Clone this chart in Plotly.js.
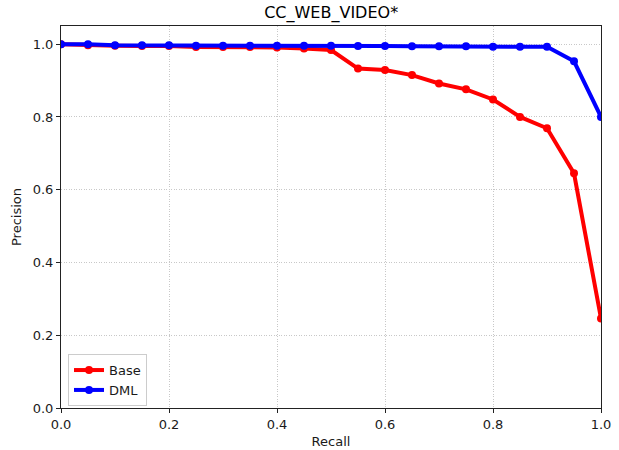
<!DOCTYPE html>
<html>
<head>
<meta charset="utf-8">
<script src="https://cdn.plot.ly/plotly-3.0.1.min.js"></script>
<style>html,body{margin:0;padding:0;background:#fff;}#chart{width:619px;height:450px;}</style>
</head>
<body>
<div id="chart"></div>
<script>
const recall = [0, 0.05, 0.1, 0.15, 0.2, 0.25, 0.3, 0.35, 0.4, 0.45, 0.5, 0.55, 0.6, 0.65, 0.7, 0.75, 0.8, 0.85, 0.9, 0.95, 1.0];
const basePrecision = [1.0, 0.997, 0.996, 0.995, 0.995, 0.992, 0.992, 0.992, 0.991, 0.988, 0.984, 0.933, 0.929, 0.915, 0.892, 0.876, 0.848, 0.800, 0.769, 0.645, 0.246];
const dmlPrecision = [1.0, 1.0, 0.997, 0.997, 0.997, 0.996, 0.996, 0.996, 0.996, 0.996, 0.996, 0.995, 0.995, 0.994, 0.994, 0.994, 0.993, 0.993, 0.993, 0.953, 0.800];
const xTicks = [0, 0.2, 0.4, 0.6, 0.8, 1.0];
const xTickLabels = ["0.0", "0.2", "0.4", "0.6", "0.8", "1.0"];
const yTicks = [0, 0.2, 0.4, 0.6, 0.8, 1.0];
const yTickLabels = ["0.0", "0.2", "0.4", "0.6", "0.8", "1.0"];

const font = {family: "DejaVu Sans", size: 13, color: "#1a1a1a"};
const traces = [
  {x: recall, y: basePrecision, name: "Base", mode: "lines+markers",
   line: {color: "#ff0000", width: 4}, marker: {color: "#ff0000", size: 8}},
  {x: recall, y: dmlPrecision, name: "DML", mode: "lines+markers",
   line: {color: "#0000ff", width: 4}, marker: {color: "#0000ff", size: 8}}
];
const axisCommon = {
  showline: true, linecolor: "#222", linewidth: 1, mirror: true,
  ticks: "outside", ticklen: 4, tickcolor: "#222", tickwidth: 1,
  showgrid: true, gridcolor: "#c8c8c8", griddash: "1px,1.5px", gridwidth: 1,
  zeroline: false, tickfont: font
};
const layout = {
  width: 619, height: 450,
  margin: {l: 61, r: 18, t: 26, b: 42},
  paper_bgcolor: "#fff", plot_bgcolor: "#fff",
  font: font,
  title: {text: "CC_WEB_VIDEO*", font: {family: "DejaVu Sans", size: 16, color: "#000"}, x: 0.535, xanchor: "center", y: 0.973, yanchor: "middle"},
  xaxis: Object.assign({}, axisCommon, {range: [0, 1], tickvals: xTicks, ticktext: xTickLabels,
    title: {text: "Recall", font: font, standoff: 6}}),
  yaxis: Object.assign({}, axisCommon, {range: [0, 1.05], tickvals: yTicks, ticktext: yTickLabels,
    title: {text: "Precision", font: font, standoff: 8}}),
  legend: {x: 0.013, y: 0.005, xanchor: "left", yanchor: "bottom",
    bgcolor: "rgba(255,255,255,0.8)", bordercolor: "#cccccc", borderwidth: 1,
    font: font, tracegroupgap: 2},
  showlegend: true
};
Plotly.newPlot("chart", traces, layout, {displayModeBar: false, staticPlot: true});
</script>
</body>
</html>
